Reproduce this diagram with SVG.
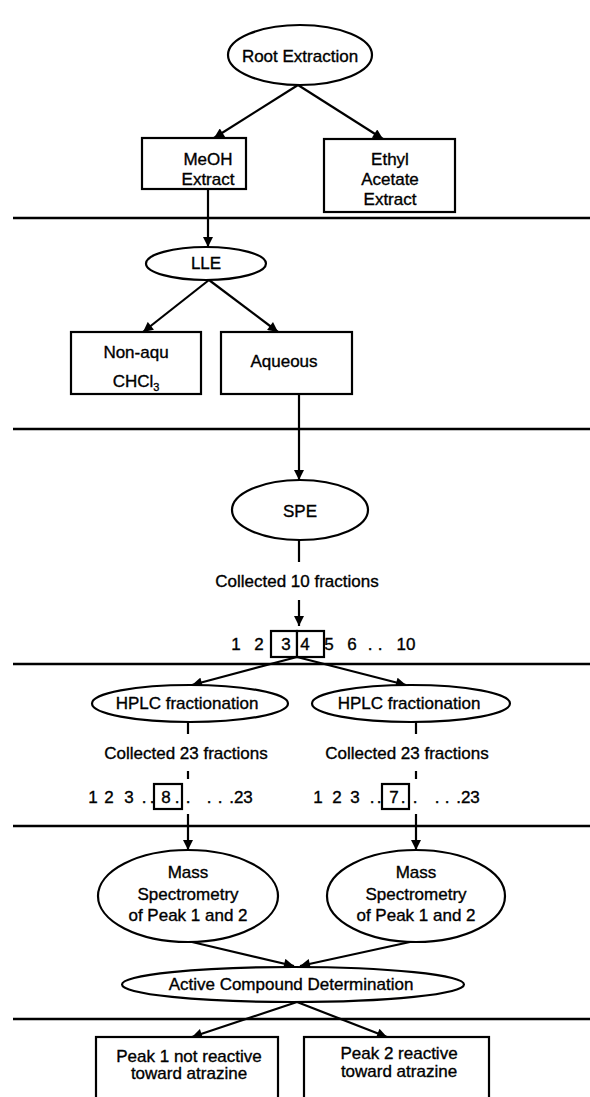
<svg xmlns="http://www.w3.org/2000/svg" width="590" height="1097" viewBox="0 0 590 1097">
<style>
text{font-family:"Liberation Sans",Arial,sans-serif;font-size:17px;fill:#000;stroke:#000;stroke-width:0.35;text-anchor:middle}
.n{fill:#fff;stroke:#000;stroke-width:2.2}
.c{fill:none;stroke:#000;stroke-width:2.2}
.sep{stroke:#000;stroke-width:2.6}
</style>
<defs>
<marker id="ah" viewBox="0 0 10 10" refX="10" refY="5" markerWidth="11" markerHeight="10" markerUnits="userSpaceOnUse" orient="auto"><path d="M0,0 L10,5 L0,10 z" fill="#000"/></marker>
</defs>
<rect width="590" height="1097" fill="#fff"/>
<g id="separators">
<line class="sep" x1="13" y1="218" x2="590" y2="218"/>
<line class="sep" x1="13" y1="429" x2="590" y2="429"/>
<line class="sep" x1="13" y1="664" x2="590" y2="664"/>
<line class="sep" x1="13" y1="826" x2="590" y2="826"/>
<line class="sep" x1="13" y1="1019" x2="590" y2="1019"/>
</g>
<g id="connectors">
<path class="c" d="M298,85 L214,138" marker-end="url(#ah)"/>
<path class="c" d="M298,85 L383,139" marker-end="url(#ah)"/>
<path class="c" d="M208,189 L208,247" marker-end="url(#ah)"/>
<path class="c" d="M209,280 L143,332" marker-end="url(#ah)"/>
<path class="c" d="M209,280 L278,332" marker-end="url(#ah)"/>
<path class="c" d="M299,394 L299,480" marker-end="url(#ah)"/>
<path class="c" d="M299,540 L299,562"/>
<path class="c" d="M299,600 L299,626" marker-end="url(#ah)"/>
<path class="c" d="M297,657 L192,685" marker-end="url(#ah)"/>
<path class="c" d="M297,657 L406,685" marker-end="url(#ah)"/>
<path class="c" d="M188,722 L188,734 M188,771 L188,779 M188,814 L188,850" marker-end="url(#ah)"/>
<path class="c" d="M416,722 L416,734 M416,771 L416,779 M416,814 L416,850" marker-end="url(#ah)"/>
<path class="c" d="M192,942 L294,966" marker-end="url(#ah)"/>
<path class="c" d="M410,942 L300,966" marker-end="url(#ah)"/>
<path class="c" d="M297,1002 L192,1037" marker-end="url(#ah)"/>
<path class="c" d="M297,1002 L387,1037" marker-end="url(#ah)"/>
</g>
<g id="root-extraction">
<ellipse class="n" cx="300" cy="55" rx="72" ry="30"/>
<text x="300" y="62">Root Extraction</text>
</g>
<g id="meoh-extract">
<rect class="n" x="142" y="138" width="104" height="51"/>
<text x="208" y="165">MeOH</text>
<text x="208" y="185">Extract</text>
</g>
<g id="ethyl-acetate-extract">
<rect class="n" x="324" y="139" width="131" height="73"/>
<text x="390" y="165">Ethyl</text>
<text x="390" y="185">Acetate</text>
<text x="390" y="205">Extract</text>
</g>
<g id="lle">
<ellipse class="n" cx="206" cy="263.5" rx="60" ry="16.5"/>
<text x="206" y="269">LLE</text>
</g>
<g id="non-aqu">
<rect class="n" x="71" y="332" width="130" height="62"/>
<text x="136" y="358">Non-aqu</text>
<text x="136" y="387">CHCl<tspan font-size="11" dy="4">3</tspan></text>
</g>
<g id="aqueous">
<rect class="n" x="221" y="332" width="131" height="62"/>
<text x="284" y="367">Aqueous</text>
</g>
<g id="spe">
<ellipse class="n" cx="300" cy="510" rx="68" ry="30"/>
<text x="300" y="517">SPE</text>
</g>
<g id="spe-fractions">
<text x="297" y="587">Collected 10 fractions</text>
<rect class="n" x="271" y="631" width="26" height="26"/>
<rect class="n" x="297" y="631" width="27" height="26"/>
<text x="236" y="650">1</text>
<text x="259" y="650">2</text>
<text x="286" y="650">3</text>
<text x="305" y="650">4</text>
<text x="329" y="650">5</text>
<text x="352" y="650">6</text>
<text x="370" y="650">.</text>
<text x="380" y="650">.</text>
<text x="406" y="650">10</text>
</g>
<g id="hplc-left">
<ellipse class="n" cx="190" cy="703.5" rx="98" ry="18.5"/>
<text x="187" y="709">HPLC fractionation</text>
</g>
<g id="hplc-right">
<ellipse class="n" cx="411" cy="703.5" rx="99" ry="18.5"/>
<text x="409" y="709">HPLC fractionation</text>
</g>
<g id="hplc-left-fractions">
<text x="186" y="759">Collected 23 fractions</text>
<rect class="n" x="154" y="784" width="28" height="25"/>
<text x="93" y="803">1</text>
<text x="109" y="803">2</text>
<text x="129" y="803">3</text>
<text x="144" y="803">.</text>
<text x="152" y="803">.</text>
<text x="166" y="803">8</text>
<text x="177" y="803">.</text>
<text x="188" y="803">.</text>
<text x="209" y="803">.</text>
<text x="220" y="803">.</text>
<text x="241" y="803">.23</text>
</g>
<g id="hplc-right-fractions">
<text x="407" y="759">Collected 23 fractions</text>
<rect class="n" x="382" y="784" width="27" height="25"/>
<text x="318" y="803">1</text>
<text x="337" y="803">2</text>
<text x="355" y="803">3</text>
<text x="372" y="803">.</text>
<text x="379" y="803">.</text>
<text x="394" y="803">7</text>
<text x="403" y="803">.</text>
<text x="415" y="803">.</text>
<text x="437" y="803">.</text>
<text x="447" y="803">.</text>
<text x="468" y="803">.23</text>
</g>
<g id="ms-left">
<ellipse class="n" cx="188" cy="896" rx="90" ry="46"/>
<text x="188" y="878">Mass</text>
<text x="188" y="900">Spectrometry</text>
<text x="188" y="921">of Peak 1 and 2</text>
</g>
<g id="ms-right">
<ellipse class="n" cx="416" cy="896" rx="89" ry="46"/>
<text x="416" y="878">Mass</text>
<text x="416" y="900">Spectrometry</text>
<text x="416" y="921">of Peak 1 and 2</text>
</g>
<g id="active-compound">
<ellipse class="n" cx="293" cy="984.5" rx="171" ry="17.5"/>
<text x="291" y="990">Active Compound Determination</text>
</g>
<g id="peak1">
<rect class="n" x="96" y="1037" width="182" height="70"/>
<text x="189" y="1062">Peak 1 not reactive</text>
<text x="189" y="1079">toward atrazine</text>
</g>
<g id="peak2">
<rect class="n" x="304" y="1037" width="185" height="70"/>
<text x="399" y="1059">Peak 2 reactive</text>
<text x="399" y="1077">toward atrazine</text>
</g>
</svg>
